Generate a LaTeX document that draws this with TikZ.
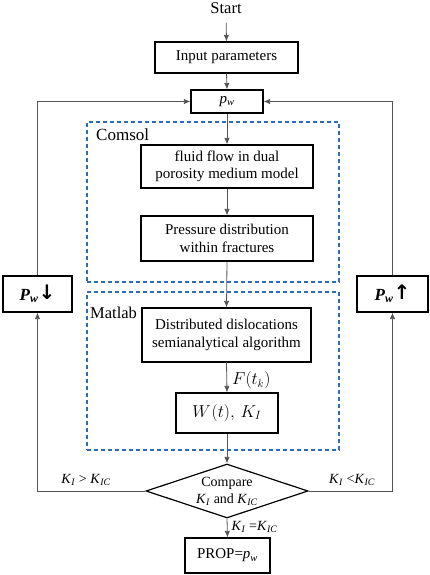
\documentclass[tikz,border=0pt]{standalone}
\usepackage{fontspec}
\setmainfont{Liberation Serif}
\newfontfamily\symf{DejaVu Sans}
\usetikzlibrary{shapes.geometric,arrows.meta}
\newcommand{\KI}{\textit{K}\textsubscript{\textit{I}}}
\newcommand{\KIC}{\textit{K}\textsubscript{\textit{IC}}}
\newcommand{\pwt}{\textit{p}\textsubscript{\textit{w}}}
\newcommand{\PWb}{\textbf{\textit{P}}\textsubscript{\textbf{\textit{w}}}}
\definecolor{lineg}{HTML}{555555}
\definecolor{regblue}{HTML}{2E6DB4}
\begin{document}
\begin{tikzpicture}[x=1pt,y=-1pt,
  box/.style={draw=black, line width=1.2pt, align=center, inner sep=0pt,
    font=\fontsize{15}{17.5}\selectfont},
  conn/.style={draw=lineg, line width=0.8pt, -{Latex[length=6.5pt,width=5.5pt]}},
  region/.style={draw=regblue, dash pattern=on 4pt off 3pt, line width=1.2pt, inner sep=0pt},
  lab/.style={inner sep=0pt, font=\fontsize{14}{16}\selectfont}]
\useasboundingbox (0,0) rectangle (429,575);
% regions
\node[region, minimum width=252pt, minimum height=160pt] (comsol) at (213,202) {};
\node[region, minimum width=252pt, minimum height=158pt] (matlab) at (213,371) {};
\node[lab, font=\fontsize{17}{19}\selectfont, anchor=west] (comsoll) at (96,135) {Comsol};
\node[lab, font=\fontsize{16.5}{19}\selectfont, anchor=west] (matlabl) at (90,313) {Matlab};
% nodes
\node[lab, font=\fontsize{16.5}{19}\selectfont] (start) at (226,8) {Start};
\node[box, minimum width=143pt, minimum height=31pt] (input) at (226.5,57.5) {Input parameters};
\node[box, minimum width=72pt, minimum height=23pt] (pw) at (227,101.5) {\pwt};
\node[box, minimum width=172pt, minimum height=43pt] (fluid) at (227,166.5) {fluid flow in dual\\porosity medium model};
\node[box, minimum width=172pt, minimum height=45pt] (press) at (227,238.5) {Pressure distribution\\within fractures};
\node[box, minimum width=169pt, minimum height=54pt] (dist) at (226.5,335) {Distributed dislocations\\semianalytical algorithm};
\node[box, minimum width=102pt, minimum height=40pt, font=\fontsize{17}{19}\selectfont] (wk) at (227,413) {$W\mkern1mu(t),\,K_I$};
\node[box, shape=diamond, aspect=3, minimum width=162pt, minimum height=54pt, font=\fontsize{14}{17}\selectfont] (cmp) at (227,491) {Compare\\\KI{} and \KIC};
\node[box, minimum width=85pt, minimum height=35pt] (prop) at (227.5,555.5) {PROP=\pwt};
\node[box, minimum width=69pt, minimum height=36pt, font=\fontsize{17}{18}\selectfont] (pdown) at (37.5,294) {\PWb\raisebox{0.5pt}{\fontsize{20}{20}\selectfont\symf\bfseries ↓}};
\node[box, minimum width=71pt, minimum height=36pt, font=\fontsize{17}{18}\selectfont] (pup) at (392.5,294) {\PWb\raisebox{0.5pt}{\fontsize{20}{20}\selectfont\symf\bfseries ↑}};
% connectors
\draw[conn, shorten <=9pt] (start.south) -- (input.north);
\draw[conn] (input.south) -- (pw.north);
\draw[conn] (pw.south) -- (fluid.north);
\draw[conn] (fluid.south) -- (press.north);
\draw[conn] (press.south) -- (dist.north);
\draw[conn] (dist.south) -- node[lab, right=5pt, pos=0.6, font=\fontsize{16}{18}\selectfont] (ftk) {$F(t_k)$} (wk.north);
\draw[conn] (wk.south) -- (cmp.north);
\draw[conn] (cmp.south) -- node[lab, right=4pt, pos=0.45] (keq) {\KI{} =\KIC} (prop.north);
\draw[conn] (cmp.west) -| (pdown.south);
\draw[conn] (pdown.north) |- (pw.west);
\draw[conn] (cmp.east) -| (pup.south);
\draw[conn] (pup.north) |- (pw.east);
\node[lab] (kgt) at (86,480) {\KI{} > \KIC};
\node[lab] (klt) at (352,480) {\KI{} <\KIC};
\end{tikzpicture}
\end{document}
